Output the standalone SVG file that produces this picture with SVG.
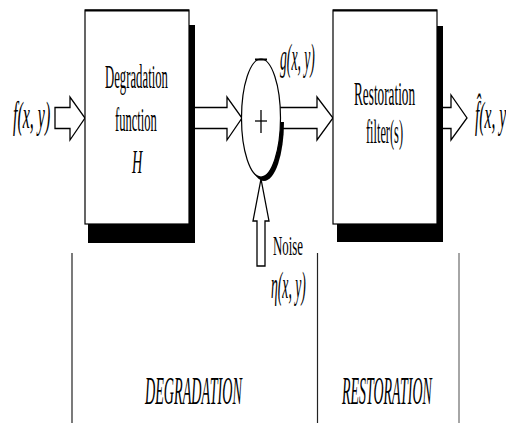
<svg xmlns="http://www.w3.org/2000/svg" width="506" height="423" viewBox="0 0 506 423">
<style>
.t{font-family:"Liberation Serif","Times New Roman",serif;fill:#000}
.i{font-style:italic}
.b{font-size:34px}
.l{font-size:38px}
.box{fill:#fff;stroke:#000;stroke-width:1.2}
.sh{fill:#000}
.arr{fill:#fff;stroke:#000;stroke-width:1.3;stroke-linejoin:miter}
.vl{stroke:#222;stroke-width:1.2}
</style>
<defs>
<clipPath id="lower"><rect x="230" y="122" width="60" height="70"/></clipPath>
</defs>
<rect width="506" height="423" fill="#fff"/>
<g id="connectors">
<path class="arr" d="M55,107.5 H70 V97 L85,118 L70,140 V128.5 H55 Z"/>
<path class="arr" d="M195,107.5 H227 V97 L242,118 L227,140 V128.5 H195"/>
<path class="arr" d="M280,107.5 H317 V97 L333,118 L317,140 V128.5 H280"/>
<path class="arr" d="M443,107.5 H451 V95 L467,118 L451,140 V128.5 H443"/>
<path class="arr" d="M257,266 V221 H253 L261,179 L269,221 H265 V266 Z"/>
</g>
<g id="degradation">
<rect class="sh" x="88" y="25" width="107" height="218"/>
<rect class="box" x="85" y="10" width="104" height="214"/>
<line x1="85" y1="10.5" x2="189" y2="10.5" stroke="#000" stroke-width="2"/>
<text class="t b" transform="translate(105,88) scale(0.375,1)">Degradation</text>
<text class="t b" transform="translate(115,131) scale(0.37,1)">function</text>
<text class="t b i" transform="translate(132,173) scale(0.42,1)">H</text>
</g>
<g id="sum">
<ellipse cx="264" cy="122" rx="20" ry="59" class="sh" clip-path="url(#lower)"/>
<ellipse cx="261" cy="118" rx="19.5" ry="59" fill="#fff" stroke="#000" stroke-width="1.2"/>
<line x1="255" y1="59.5" x2="267" y2="59.5" stroke="#000" stroke-width="2"/>
<line x1="255" y1="121" x2="267" y2="121" stroke="#000" stroke-width="1.3"/>
<line x1="261" y1="110" x2="261" y2="133" stroke="#000" stroke-width="1.3"/>
</g>
<g id="restoration">
<rect class="sh" x="337" y="26" width="106" height="216"/>
<rect class="box" x="333" y="10" width="104" height="214"/>
<line x1="333" y1="10.5" x2="437" y2="10.5" stroke="#000" stroke-width="2"/>
<text class="t b" transform="translate(354,105) scale(0.39,1)">Restoration</text>
<text class="t b" transform="translate(366,143) scale(0.363,1)">filter(s)</text>
</g>
<g id="labels">
<text class="t l i" transform="translate(13,128) scale(0.42,1)">f(x, y)</text>
<text class="t l i" transform="translate(280,70) scale(0.36,1)">g(x, y)</text>
<text class="t l i" transform="translate(475,128) scale(0.41,1)">f̂(x, y</text>
<text class="t" font-size="28" transform="translate(273,255) scale(0.46,1)">Noise</text>
<text class="t l i" transform="translate(271,298) scale(0.36,1)">η(x, y)</text>
</g>
<g id="sections">
<line class="vl" x1="72" y1="253" x2="72" y2="423"/>
<line class="vl" x1="317.5" y1="253" x2="317.5" y2="423"/>
<line x1="459" y1="253" x2="459" y2="423" stroke="#888" stroke-width="1.5"/>
<text class="t i" font-size="41" transform="translate(145,404) scale(0.345,1)">DEGRADATION</text>
<text class="t i" font-size="41" transform="translate(342,404) scale(0.34,1)">RESTORATION</text>
</g>
</svg>
